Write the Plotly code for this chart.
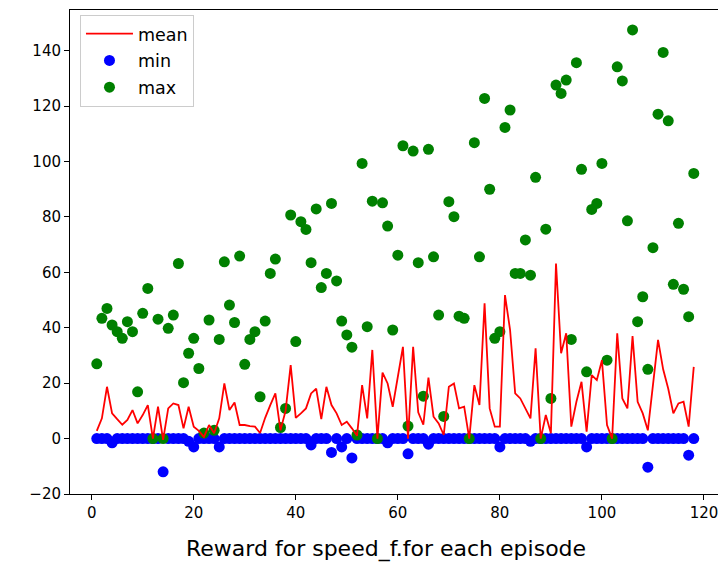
import plotly.graph_objects as go

episodes = list(range(1, 119))

mean_reward = [
    2.8, 7.3, 18.7, 9.1, 7.0, 5.0, 6.7, 10.3, 5.5, 8.5,
    12.1, 0.0, 11.5, -0.5, 10.9, 12.7, 12.1, 3.7, 11.5, 4.3,
    2.8, 0.6, 4.9, 1.9, 7.3, 19.9, 10.3, 13.0, 4.9, 4.9,
    4.5, 4.3, 2.0, 7.5, 12.1, 16.3, 3.0, 10.0, 26.5, 7.5,
    9.1, 10.9, 16.3, 18.0, 7.0, 18.7, 12.1, 9.1, 4.9, 6.1,
    3.7, 1.0, 19.3, 7.3, 32.0, 0.0, 23.8, 19.9, 11.5, 22.0,
    33.1, 0.0, 33.1, 9.5, 5.0, 22.0, 7.9, 5.5, 1.3, 18.7,
    19.9, 10.9, 11.5, 0.0, 19.3, 12.1, 48.8, 10.9, 4.3, 4.3,
    51.8, 39.2, 16.3, 14.5, 10.9, 7.3, 32.6, 0.0, 8.5, 1.9,
    63.2, 30.8, 38.0, 4.3, 13.3, 20.5, 2.5, 22.9, 21.1, 28.3,
    4.9, 0.0, 38.0, 14.5, 10.9, 37.0, 13.3, 9.1, 3.0, 20.0,
    35.6, 25.0, 18.0, 9.1, 12.7, 13.3, 4.3, 25.9,
]

min_reward = [
    0, 0, 0, -1.5, 0, 0, 0, 0, 0, 0,
    0, 0, 0, -12.0, 0, 0, 0, 0, -1.0, -3.0,
    0, 0, 0, 0, -3.0, 0, 0, 0, 0, 0,
    0, 0, 0, 0, 0, 0, 0, 0, 0, 0,
    0, 0, -2.3, 0, 0, 0, -5.0, 0, -3.0, 0,
    -7.0, 0, 0, 0, 0, 0, 0, -1.5, 0, 0,
    0, -5.5, 0, 0, 0, -2.0, 0, 0, 0, 0,
    0, 0, 0, 0, 0, 0, 0, 0, 0, -3.0,
    0, 0, 0, 0, 0, -1.0, 0, 0, 0, 0,
    0, 0, 0, 0, 0, 0, -3.0, 0, 0, 0,
    0, 0, 0, 0, 0, 0, 0, 0, -10.3, 0,
    0, 0, 0, 0, 0, 0, -6.0, 0,
]

max_reward = [
    27.0, 43.4, 47.0, 41.0, 38.6, 36.2, 42.2, 38.6, 16.9, 45.2,
    54.2, 0.0, 43.1, 0.0, 39.8, 44.6, 63.2, 20.2, 30.8, 36.2,
    25.3, 2.0, 42.8, 3.0, 35.8, 63.8, 48.2, 41.9, 65.9, 26.8,
    35.8, 38.6, 15.1, 42.4, 59.6, 64.8, 4.0, 10.9, 80.7, 35.0,
    78.3, 75.5, 63.5, 82.9, 54.5, 59.6, 84.9, 56.9, 42.4, 37.4,
    33.0, 1.3, 99.3, 40.4, 85.7, 0.0, 85.1, 76.7, 39.2, 66.2,
    105.7, 4.5, 103.8, 63.5, 15.3, 104.4, 65.6, 44.6, 8.0, 85.5,
    80.1, 44.2, 43.4, 0.0, 106.8, 65.6, 122.8, 90.0, 36.2, 38.6,
    112.3, 118.6, 59.6, 59.6, 71.7, 59.0, 94.3, 0.0, 75.6, 14.5,
    127.6, 124.6, 129.4, 35.8, 135.7, 97.2, 24.1, 82.7, 84.9, 99.3,
    28.3, 0.0, 134.2, 129.1, 78.6, 147.5, 42.2, 51.2, 25.0, 68.9,
    117.1, 139.4, 114.7, 55.7, 77.7, 53.9, 44.0, 95.7,
]

x_ticks = [0, 20, 40, 60, 80, 100, 120]
y_ticks = [-20, 0, 20, 40, 60, 80, 100, 120, 140]
y_tick_text = [("\u2212" + str(-v)) if v < 0 else str(v) for v in y_ticks]
x_title = "Reward for speed_f.for each episode"

font = "DejaVu Sans, Liberation Sans, sans-serif"

fig = go.Figure()
fig.add_trace(go.Scatter(
    x=episodes, y=min_reward, mode="markers", name="min",
    marker=dict(color="#0000ff", size=11, line=dict(width=0)),
    legendrank=2, legendgroup="b",
))
fig.add_trace(go.Scatter(
    x=episodes, y=max_reward, mode="markers", name="max",
    marker=dict(color="#008000", size=11, line=dict(width=0)),
    legendrank=3, legendgroup="c",
))
fig.add_trace(go.Scatter(
    x=episodes, y=mean_reward, mode="lines", name="mean",
    line=dict(color="#ff0000", width=1.8),
    legendrank=1, legendgroup="a",
))

fig.update_layout(
    width=718, height=563,
    margin=dict(l=70, r=0, t=10, b=69),
    paper_bgcolor="white", plot_bgcolor="white",
    font=dict(family=font, size=15, color="#000000"),
    showlegend=True,
    legend=dict(
        x=0.0154, y=0.99, xanchor="left", yanchor="top",
        bgcolor="rgba(255,255,255,0.8)", bordercolor="#cccccc", borderwidth=1,
        font=dict(family=font, size=17.5, color="#000000"),
        itemwidth=47, traceorder="grouped", tracegroupgap=1,
    ),
    annotations=[dict(
        text=x_title, xref="paper", yref="paper", x=0.4877, y=0,
        xanchor="center", yanchor="middle", yshift=-55, showarrow=False,
        font=dict(family=font, size=22, color="#000000"),
    )],
)

fig.update_xaxes(
    range=[-4.25, 122.75], tickvals=x_ticks, ticktext=[str(v) for v in x_ticks],
    showgrid=False, zeroline=False, showline=True, linecolor="#000000", linewidth=1,
    mirror=True, ticks="outside", ticklen=5, tickcolor="#000000", tickwidth=1,
    tickfont=dict(family=font, size=15, color="#000000"),
    ticklabeloverflow="allow",
)
fig.update_yaxes(
    range=[-20.0, 154.7], tickvals=y_ticks, ticktext=y_tick_text,
    showgrid=False, zeroline=False, showline=True, linecolor="#000000", linewidth=1,
    mirror=False, ticks="outside", ticklen=5, tickcolor="#000000", tickwidth=1,
    tickfont=dict(family=font, size=15, color="#000000"),
)

fig.write_html(
    "out.html",
    config={"displayModeBar": False},
    post_script="document.body.style.margin='0px';document.body.style.padding='0px';",
)
